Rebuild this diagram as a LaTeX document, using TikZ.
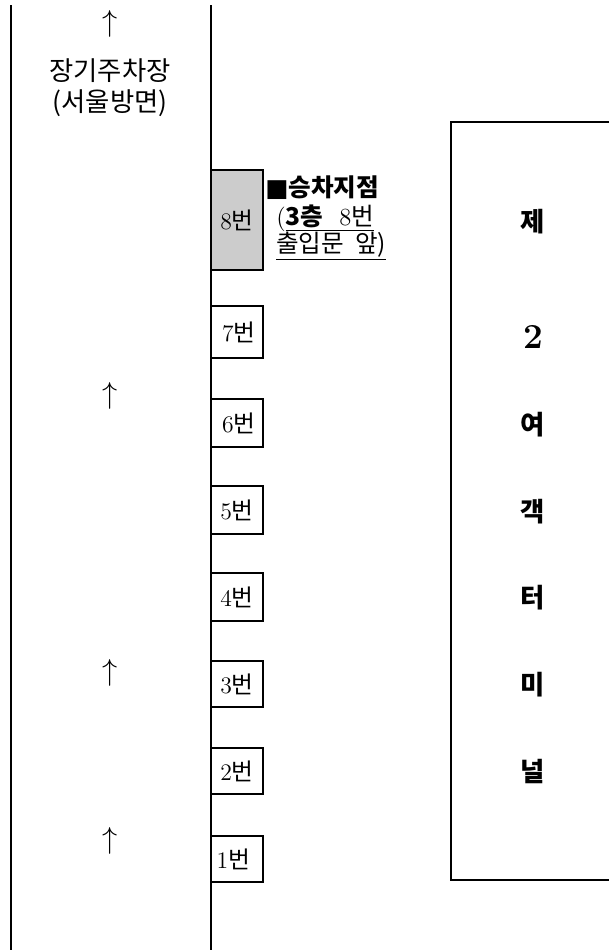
\documentclass[tikz,border=0pt]{standalone}
\usepackage{fontspec}
\newfontfamily\kr{Noto Sans CJK KR}
\definecolor{stopgray}{RGB}{204,204,204}
\tikzset{
  gatebox/.style={draw, line width=0.6pt, minimum width=1.04cm, inner sep=0pt},
  gatelabel/.style={font=\fontsize{13.5}{15}\selectfont},
  termlabel/.style={font=\kr\bfseries\fontsize{15}{17}\selectfont},
  uparr/.style={font=\fontsize{17}{17}\selectfont, inner sep=0pt}
}
\begin{document}
\begin{tikzpicture}[x=0.02cm, y=-0.02cm]
\useasboundingbox (0,0) rectangle (609,950);
% road edges
\draw[line width=0.6pt] (11,5) -- (11,950);
\draw[line width=0.6pt] (211,5) -- (211,950);
% long-term parking
\node[uparr] (a0) at (110,24) {$\uparrow$};
\node[font=\kr\fontsize{15}{17}\selectfont] (park) at (110,71) {장기주차장};
\node[font=\kr\fontsize{15}{17}\selectfont] (seoul) at (110,103) {(서울방면)};
\node[uparr] (a1) at (110,396) {$\uparrow$};
\node[uparr] (a2) at (110,673) {$\uparrow$};
\node[uparr] (a3) at (110,841) {$\uparrow$};
% gates
\node[gatebox, fill=stopgray, minimum height=2cm] (g8) at (237,220) {};
\node[gatelabel] at (g8) {8{\kr 번}};
\node[gatebox, minimum height=1.04cm] (g7) at (237,332) {};
\node[gatelabel, anchor=east] at ([xshift=-1pt]g7.east) {7{\kr 번}};
\node[gatebox, minimum height=0.96cm] (g6) at (237,423) {};
\node[gatelabel, anchor=east] at ([xshift=-1pt]g6.east) {6{\kr 번}};
\node[gatebox, minimum height=0.96cm] (g5) at (237,510) {};
\node[gatelabel] at (g5) {5{\kr 번}};
\node[gatebox, minimum height=0.96cm] (g4) at (237,597) {};
\node[gatelabel] at (g4) {4{\kr 번}};
\node[gatebox, minimum height=0.92cm] (g3) at (237,684) {};
\node[gatelabel] at (g3) {3{\kr 번}};
\node[gatebox, minimum height=0.92cm] (g2) at (237,771) {};
\node[gatelabel] at (g2) {2{\kr 번}};
\node[gatebox, minimum height=0.92cm] (g1) at (237,859) {};
\node[gatelabel, anchor=west] at ([xshift=0pt]g1.west) {1{\kr 번}};
% boarding point
\node[anchor=west, font=\kr\bfseries\fontsize{14}{16}\selectfont, inner sep=0pt] (stop) at (265,188) {{\fontspec{DejaVu Sans}■}승차지점};
\node[anchor=west, font=\fontsize{14}{15}\selectfont, inner sep=0pt] (floor) at (276,218) {(\underline{{\kr\bfseries 3층}~~8{\kr 번}}};
\node[anchor=west, font=\kr\fontsize{14}{15}\selectfont, inner sep=0pt] (door) at (276,246) {\underline{출입문~~앞)}};
% terminal
\draw[line width=0.6pt] (609,122) -- (451,122) -- (451,880) -- (609,880);
\node[termlabel] (t1) at (533,222) {제};
\node[termlabel, font=\bfseries\fontsize{20}{22}\selectfont] (t2) at (533,337) {2};
\node[termlabel] (t3) at (533,425) {여};
\node[termlabel] (t4) at (533,512) {객};
\node[termlabel] (t5) at (533,598) {터};
\node[termlabel] (t6) at (533,685) {미};
\node[termlabel] (t7) at (533,772) {널};
\end{tikzpicture}
\end{document}
